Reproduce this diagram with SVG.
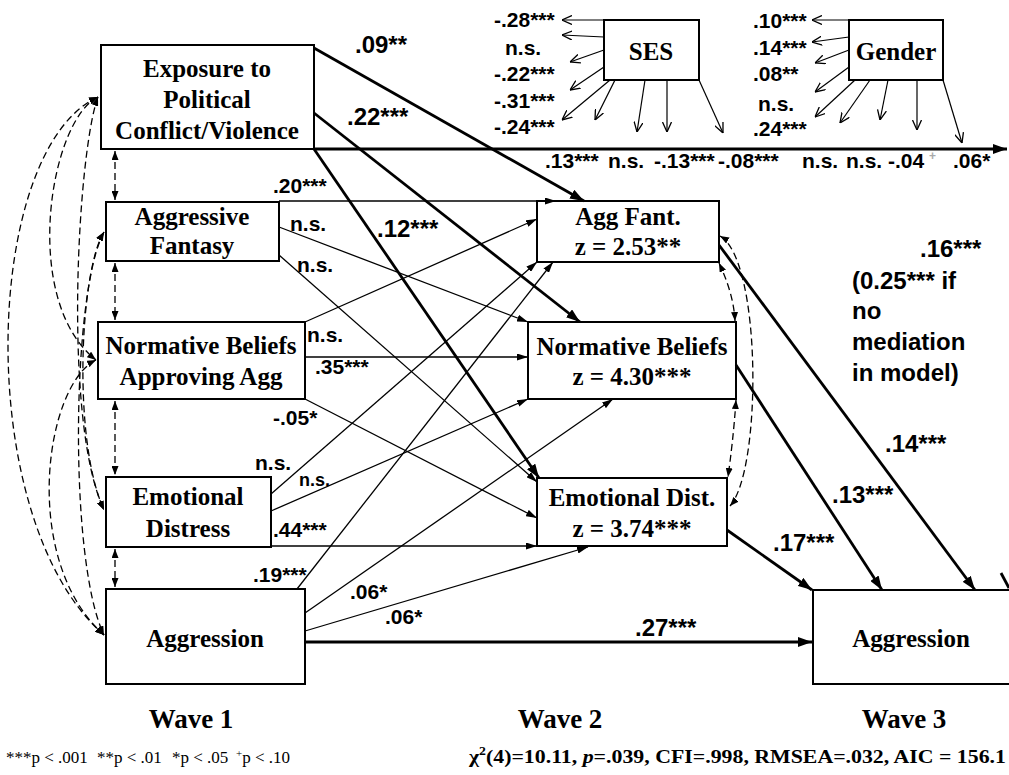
<svg xmlns="http://www.w3.org/2000/svg" width="1009" height="775" viewBox="0 0 1009 775">
<defs>
<style>
.box{fill:#fff;stroke:#000;stroke-width:2}
.nt{font-family:"Liberation Serif","Times New Roman",serif;font-weight:bold;font-size:25px;text-anchor:middle;fill:#000}
.lb{font-family:"Liberation Sans",Arial,sans-serif;font-weight:bold;font-size:21px;fill:#000}
.lg{font-size:24px}
.wv{font-family:"Liberation Serif","Times New Roman",serif;font-weight:bold;font-size:27px;text-anchor:middle}
.ft{font-family:"Liberation Serif","Times New Roman",serif;font-size:17px}
.ftb{font-family:"Liberation Serif","Times New Roman",serif;font-size:19px;font-weight:bold}
.thick{stroke:#000;stroke-width:2.8;fill:none}
.thin{stroke:#000;stroke-width:1.3;fill:none}
.dash{stroke:#000;stroke-width:1.3;fill:none;stroke-dasharray:7 4}
.cov{stroke:#000;stroke-width:1.2;fill:none}
</style>
<marker id="a1" viewBox="0 0 14 10" refX="14" refY="5" markerWidth="14" markerHeight="10" orient="auto" markerUnits="userSpaceOnUse"><path d="M0,0L14,5L0,10z" fill="#000"/></marker>
<marker id="a2" viewBox="0 0 11 7" refX="11" refY="3.5" markerWidth="11" markerHeight="7" orient="auto" markerUnits="userSpaceOnUse"><path d="M0,0L11,3.5L0,7z" fill="#000"/></marker>
<marker id="a3" viewBox="0 0 9 7" refX="9" refY="3.5" markerWidth="9" markerHeight="7" orient="auto-start-reverse" markerUnits="userSpaceOnUse"><path d="M0,0L9,3.5L0,7z" fill="#000"/></marker>
<marker id="av" viewBox="0 0 10 10" refX="10" refY="5" markerWidth="10" markerHeight="10" orient="auto" markerUnits="userSpaceOnUse"><path d="M0,0.5L10,5L0,9.5" fill="none" stroke="#000" stroke-width="1.3"/></marker>
</defs>
<rect width="1009" height="775" fill="#fff"/>

<g id="nodes">
<g id="n_exp"><rect class="box" x="101" y="45" width="213" height="104"/><text class="nt" x="207" y="77">Exposure to</text><text class="nt" x="207" y="108">Political</text><text class="nt" x="207" y="139">Conflict/Violence</text></g>
<g id="n_af1"><rect class="box" x="106" y="202" width="173" height="59"/><text class="nt" x="192" y="225">Aggressive</text><text class="nt" x="192" y="254">Fantasy</text></g>
<g id="n_nb1"><rect class="box" x="98" y="322" width="207" height="77"/><text class="nt" x="201" y="354">Normative Beliefs</text><text class="nt" x="201" y="385">Approving Agg</text></g>
<g id="n_ed1"><rect class="box" x="106" y="477" width="165" height="70"/><text class="nt" x="188" y="505">Emotional</text><text class="nt" x="188" y="537">Distress</text></g>
<g id="n_ag1"><rect class="box" x="106" y="589" width="199" height="95"/><text class="nt" x="205" y="647">Aggression</text></g>
<g id="n_af2"><rect class="box" x="537" y="201" width="182" height="61"/><text class="nt" x="628" y="225">Agg Fant.</text><text class="nt" x="628" y="255">z = 2.53**</text></g>
<g id="n_nb2"><rect class="box" x="528" y="322" width="208" height="77"/><text class="nt" x="632" y="355">Normative Beliefs</text><text class="nt" x="632" y="385">z = 4.30***</text></g>
<g id="n_ed2"><rect class="box" x="537" y="478" width="190" height="68"/><text class="nt" x="632" y="506">Emotional Dist.</text><text class="nt" x="632" y="537">z = 3.74***</text></g>
<g id="n_ag3"><rect class="box" x="813" y="590" width="200" height="94"/><text class="nt" x="911" y="647">Aggression</text></g>
<g id="n_ses"><rect class="box" x="604" y="20" width="95" height="60"/><text class="nt" x="651" y="60">SES</text></g>
<g id="n_gen"><rect class="box" x="849" y="20" width="94" height="60"/><text class="nt" x="896" y="60">Gender</text></g>
</g>

<g id="connectors">
<path class="thick" d="M314,149 L1007,149" marker-end="url(#a1)"/>
<path class="thick" d="M314,48 L584,201" marker-end="url(#a1)"/>
<path class="thick" d="M314,113 L580,322" marker-end="url(#a1)"/>
<path class="thick" d="M314,149 L539,478" marker-end="url(#a1)"/>
<path class="thick" d="M305,642 L812,642" marker-end="url(#a1)"/>
<path class="thick" d="M727,530 L812,590" marker-end="url(#a1)"/>
<path class="thick" d="M736,365 L882,590" marker-end="url(#a1)"/>
<path class="thick" d="M719,245 L975,590" marker-end="url(#a1)"/>
<path class="thick" d="M1001,573 L1009,588"/>
<path class="thin" d="M279,201 L556,201" marker-end="url(#a2)"/>
<path class="thin" d="M279,227 L528,322" marker-end="url(#a2)"/>
<path class="thin" d="M279,255 L537,482" marker-end="url(#a2)"/>
<path class="thin" d="M305,322 L537,219" marker-end="url(#a2)"/>
<path class="thin" d="M305,357 L528,357" marker-end="url(#a2)"/>
<path class="thin" d="M305,399 L537,518" marker-end="url(#a2)"/>
<path class="thin" d="M271,494 L537,262" marker-end="url(#a2)"/>
<path class="thin" d="M271,511 L528,399" marker-end="url(#a2)"/>
<path class="thin" d="M271,546 L537,546" marker-end="url(#a2)"/>
<path class="thin" d="M297,589 L553,262" marker-end="url(#a2)"/>
<path class="thin" d="M305,613 L613,399" marker-end="url(#a2)"/>
<path class="thin" d="M305,631 L588,547" marker-end="url(#a2)"/>
<path class="cov" d="M604,20 L562,20" marker-end="url(#av)"/>
<path class="cov" d="M604,37 L562,35" marker-end="url(#av)"/>
<path class="cov" d="M604,50 L570,62" marker-end="url(#av)"/>
<path class="cov" d="M604,67 L570,90" marker-end="url(#av)"/>
<path class="cov" d="M610,80 L562,120" marker-end="url(#av)"/>
<path class="cov" d="M615,80 L595,120" marker-end="url(#av)"/>
<path class="cov" d="M645,80 L637,132" marker-end="url(#av)"/>
<path class="cov" d="M667,80 L667,132" marker-end="url(#av)"/>
<path class="cov" d="M699,80 L723,133" marker-end="url(#av)"/>
<path class="cov" d="M849,20 L812,20" marker-end="url(#av)"/>
<path class="cov" d="M849,37 L812,42" marker-end="url(#av)"/>
<path class="cov" d="M849,50 L815,63" marker-end="url(#av)"/>
<path class="cov" d="M849,67 L815,92" marker-end="url(#av)"/>
<path class="cov" d="M855,80 L815,117" marker-end="url(#av)"/>
<path class="cov" d="M870,80 L840,123" marker-end="url(#av)"/>
<path class="cov" d="M888,80 L880,120" marker-end="url(#av)"/>
<path class="cov" d="M917,80 L917,130" marker-end="url(#av)"/>
<path class="cov" d="M943,80 L962,143" marker-end="url(#av)"/>
<path class="dash" d="M115,151 L115,200" marker-start="url(#a3)" marker-end="url(#a3)"/>
<path class="dash" d="M115,263 L115,320" marker-start="url(#a3)" marker-end="url(#a3)"/>
<path class="dash" d="M115,401 L115,475" marker-start="url(#a3)" marker-end="url(#a3)"/>
<path class="dash" d="M115,549 L115,587" marker-start="url(#a3)" marker-end="url(#a3)"/>
<path class="dash" d="M98,97 C-18,150 -28,520 104,635" marker-start="url(#a3)" marker-end="url(#a3)"/>
<path class="dash" d="M98,97 C50,120 20,300 96,360" marker-start="url(#a3)" marker-end="url(#a3)"/>
<path class="dash" d="M98,97 C78,150 62,420 104,510" marker-start="url(#a3)" marker-end="url(#a3)"/>
<path class="dash" d="M104,232 C80,270 72,440 104,510" marker-start="url(#a3)" marker-end="url(#a3)"/>
<path class="dash" d="M104,232 C72,290 68,560 104,635" marker-start="url(#a3)" marker-end="url(#a3)"/>
<path class="dash" d="M96,360 C45,385 20,560 104,635" marker-start="url(#a3)" marker-end="url(#a3)"/>
<path class="dash" d="M719,263 C727,280 734,300 735,321" marker-start="url(#a3)" marker-end="url(#a3)"/>
<path class="dash" d="M736,400 C734,430 731,455 728,477" marker-start="url(#a3)" marker-end="url(#a3)"/>
<path class="dash" d="M720,236 C762,260 762,470 730,506" marker-start="url(#a3)" marker-end="url(#a3)"/>
</g>

<g id="labels">
<text class="lb lg" x="355" y="53">.09**</text>
<text class="lb lg" x="347" y="125">.22***</text>
<text class="lb lg" x="377" y="237">.12***</text>
<text class="lb" x="273" y="193">.20***</text>
<text class="lb" x="290" y="231">n.s.</text>
<text class="lb" x="297" y="272">n.s.</text>
<text class="lb" x="307" y="342">n.s.</text>
<text class="lb" x="315" y="374">.35***</text>
<text class="lb" x="273" y="425">-.05*</text>
<text class="lb" x="255" y="470">n.s.</text>
<text class="lb" x="299" y="486" style="font-size:18px">n.s.</text>
<text class="lb" x="273" y="537">.44***</text>
<text class="lb" x="253" y="582">.19***</text>
<text class="lb" x="350" y="599">.06*</text>
<text class="lb" x="385" y="624">.06*</text>
<text class="lb lg" x="635" y="636">.27***</text>
<text class="lb lg" x="773" y="551">.17***</text>
<text class="lb lg" x="832" y="503">.13***</text>
<text class="lb lg" x="885" y="452">.14***</text>
<text class="lb lg" x="920" y="257">.16***</text>
<text class="lb lg" x="852" y="289">(0.25*** if</text>
<text class="lb lg" x="852" y="319">no</text>
<text class="lb lg" x="852" y="350">mediation</text>
<text class="lb lg" x="852" y="381">in model)</text>
<text class="lb" x="494" y="27">-.28***</text>
<text class="lb" x="505" y="55">n.s.</text>
<text class="lb" x="494" y="81">-.22***</text>
<text class="lb" x="494" y="108">-.31***</text>
<text class="lb" x="494" y="134">-.24***</text>
<text class="lb" x="753" y="28">.10***</text>
<text class="lb" x="753" y="55">.14***</text>
<text class="lb" x="753" y="81">.08**</text>
<text class="lb" x="758" y="111">n.s.</text>
<text class="lb" x="753" y="136">.24***</text>
<text class="lb" x="545" y="168">.13***</text>
<text class="lb" x="608" y="168">n.s.</text>
<text class="lb" x="654" y="168">-.13***</text>
<text class="lb" x="718" y="168">-.08***</text>
<text class="lb" x="802" y="168">n.s.</text>
<text class="lb" x="846" y="168">n.s.</text>
<text class="lb" x="888" y="168">-.04</text>
<text class="lb" x="929" y="160" style="font-size:12px;fill:#aaa">+</text>
<text class="lb" x="953" y="168">.06*</text>
<text class="wv" x="191" y="728">Wave 1</text>
<text class="wv" x="560" y="728">Wave 2</text>
<text class="wv" x="904" y="728">Wave 3</text>
<text class="ft" x="6" y="763">***p &lt; .001</text>
<text class="ft" x="97" y="763">**p &lt; .01</text>
<text class="ft" x="172" y="763">*p &lt; .05</text>
<text class="ft" x="236" y="763"><tspan font-size="11" dy="-6">+</tspan><tspan dy="6">p &lt; .10</tspan></text>
<text class="ftb" x="469" y="763" textLength="537" lengthAdjust="spacingAndGlyphs">χ<tspan font-size="12" dy="-8">2</tspan><tspan dy="8">(4)=10.11, </tspan><tspan font-style="italic">p</tspan>=.039, CFI=.998, RMSEA=.032, AIC = 156.1</text>
</g>
</svg>
